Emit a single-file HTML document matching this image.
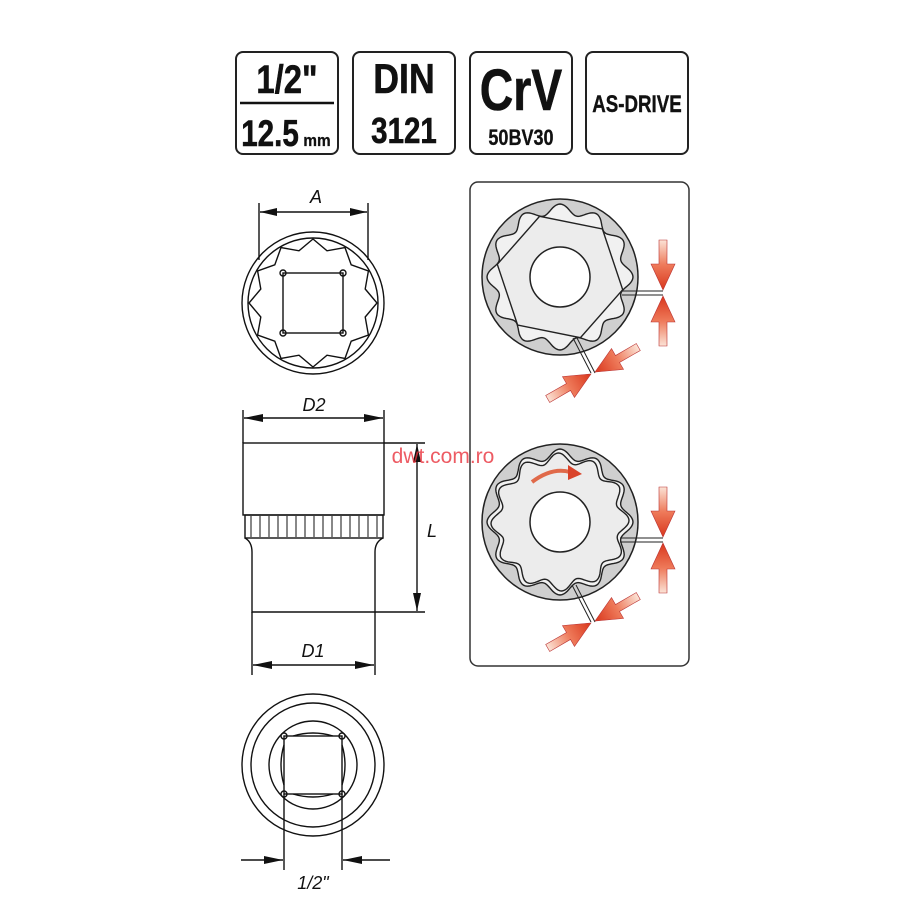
<!DOCTYPE html>
<html><head><meta charset="utf-8"><style>
html,body{margin:0;padding:0;background:#fff}
svg{display:block}
text{font-family:"Liberation Sans",sans-serif}
</style></head><body>
<svg id="s" width="911" height="911" viewBox="0 0 911 911" xmlns="http://www.w3.org/2000/svg">
<defs>
<linearGradient id="rg" x1="0" y1="0" x2="0" y2="1"><stop offset="0" stop-color="#fbe3d6"/><stop offset="0.5" stop-color="#ee7a5a"/><stop offset="1" stop-color="#d9361c"/></linearGradient>
</defs>
<g fill="#fff" stroke="#222" stroke-width="2">
<rect x="236" y="52" width="102" height="102" rx="7"/>
<rect x="353" y="52" width="102" height="102" rx="7"/>
<rect x="470" y="52" width="102" height="102" rx="7"/>
<rect x="586" y="52" width="102" height="102" rx="7"/>
</g>
<g font-weight="bold" fill="#111" text-anchor="middle" stroke="#111" stroke-width="0.6">
<text x="287" y="93" font-size="40" transform="translate(287 0) scale(0.82 1) translate(-287 0)">1/2"</text>
<line x1="240" y1="103" x2="334" y2="103" stroke="#111" stroke-width="2.5"/>
<text x="270" y="146" font-size="37" transform="translate(270 0) scale(0.8 1) translate(-270 0)">12.5</text>
<text x="317" y="146" font-size="17" stroke-width="0.3" transform="translate(317 0) scale(0.9 1) translate(-317 0)">mm</text>
<text x="404" y="93" font-size="42" transform="translate(404 0) scale(0.85 1) translate(-404 0)">DIN</text>
<text x="404" y="143" font-size="36" transform="translate(404 0) scale(0.82 1) translate(-404 0)">3121</text>
<text x="521" y="110" font-size="58" transform="translate(521 0) scale(0.8 1) translate(-521 0)">CrV</text>
<text x="521" y="145" font-size="22" stroke-width="0.3" transform="translate(521 0) scale(0.82 1) translate(-521 0)">50BV30</text>
<text x="637" y="112" font-size="24" stroke-width="0.4" transform="translate(637 0) scale(0.78 1) translate(-637 0)">AS-DRIVE</text>
</g>
<g fill="none" stroke="#111" stroke-width="1.4">
<circle cx="313" cy="303" r="71"/><circle cx="313" cy="303" r="65"/>
<path id="star12"/>
<rect x="283" y="273" width="60" height="60"/>
<circle cx="283" cy="273" r="3"/><circle cx="343" cy="273" r="3"/><circle cx="283" cy="333" r="3"/><circle cx="343" cy="333" r="3"/>
<line x1="259" y1="203" x2="259" y2="260"/><line x1="368" y1="203" x2="368" y2="260"/>
<line x1="260" y1="212" x2="367" y2="212"/>
<line x1="243" y1="410" x2="243" y2="443"/><line x1="384" y1="410" x2="384" y2="443"/>
<line x1="244" y1="418" x2="383" y2="418"/>
<rect x="243" y="443" width="141" height="72"/>
<rect x="245" y="515" width="138" height="23"/>
<path d="M245,538 Q252,542 252,552 L252,612 L375,612 L375,552 Q375,542 383,538"/>
<line x1="384" y1="443" x2="425" y2="443"/><line x1="375" y1="612" x2="425" y2="612"/>
<line x1="417" y1="444" x2="417" y2="611"/>
<line x1="252" y1="612" x2="252" y2="675"/><line x1="375" y1="612" x2="375" y2="675"/>
<line x1="253" y1="665" x2="374" y2="665"/>
<circle cx="313" cy="765" r="71"/><circle cx="313" cy="765" r="62"/><circle cx="313" cy="765" r="44"/>
<path d="M284,745 Q278,765 284,785 M342,745 Q348,765 342,785 M293,736 Q313,730 333,736 M293,794 Q313,800 333,794"/>
<rect x="284" y="736" width="58" height="58"/>
<circle cx="284" cy="736" r="3"/><circle cx="342" cy="736" r="3"/><circle cx="284" cy="794" r="3"/><circle cx="342" cy="794" r="3"/>
<line x1="284" y1="794" x2="284" y2="870"/><line x1="342" y1="794" x2="342" y2="870"/>
<line x1="241" y1="860" x2="283" y2="860"/>
<line x1="390" y1="860" x2="343" y2="860"/>
</g>
<g fill="#111">
<polygon points="260,212 277,208 277,216"/><polygon points="367,212 350,208 350,216"/>
<polygon points="244,418 263,414 263,422"/><polygon points="383,418 364,414 364,422"/>
<polygon points="417,444 413,462 421,462"/><polygon points="417,611 413,593 421,593"/>
<polygon points="253,665 272,661 272,669"/><polygon points="374,665 355,661 355,669"/>
<polygon points="283,860 264,856 264,864"/><polygon points="343,860 362,856 362,864"/>
</g>
<g id="knurl" stroke="#111" stroke-width="1"></g>
<g font-style="italic" font-size="18" fill="#111" text-anchor="middle">
<text x="316" y="203">A</text><text x="314" y="411">D2</text><text x="432" y="537">L</text>
<text x="313" y="657">D1</text><text x="313" y="889">1/2"</text>
</g>
<rect x="470" y="182" width="219" height="484" rx="8" fill="#fff" stroke="#333" stroke-width="1.5"/>
<g id="wheels"></g>
<text x="443" y="463" font-size="21" fill="#e8323c" fill-opacity="0.8" text-anchor="middle">dwt.com.ro</text>
</svg>
<script>
var NS="http://www.w3.org/2000/svg";
function pts(cx,cy,f,n){var a=[];for(var i=0;i<=n;i++){var t=i/n*2*Math.PI,r=f(t);a.push((cx+r*Math.cos(t)).toFixed(1)+","+(cy+r*Math.sin(t)).toFixed(1));}return "M"+a.join("L")+"Z";}
var s=[];for(var i=0;i<24;i++){var t=i*Math.PI/12-Math.PI/2,r=i%2?54:64;s.push((313+r*Math.cos(t)).toFixed(1)+","+(303+r*Math.sin(t)).toFixed(1));}
document.getElementById("star12").setAttribute("d","M"+s.join("L")+"Z");
var k=document.getElementById("knurl");for(var x=251;x<383;x+=9){var l=document.createElementNS(NS,"line");l.setAttribute("x1",x);l.setAttribute("x2",x);l.setAttribute("y1",516);l.setAttribute("y2",537);k.appendChild(l);}
var g=document.getElementById("wheels"),h="";
function el(tag,at){h+="<"+tag+" "+at+"/>";}
function wheel(cx,cy,top){
 el("circle",'cx="'+cx+'" cy="'+cy+'" r="78" fill="#cfcfcf" stroke="#222" stroke-width="1.5"');
 el("path",'d="'+pts(cx,cy,function(t){return 68+5*Math.cos(12*t);},240)+'" fill="#f1f1f1" stroke="#222" stroke-width="1.4"');
 if(top){var p=[];for(var i=0;i<6;i++){var t=i*Math.PI/3+0.2;p.push((cx+64*Math.cos(t)).toFixed(1)+","+(cy+64*Math.sin(t)).toFixed(1));}
  el("polygon",'points="'+p.join(" ")+'" fill="#ececec" stroke="#222" stroke-width="1.4"');}
 else{el("path",'d="'+pts(cx,cy,function(t){return 64+5*Math.cos(12*t+0.3);},240)+'" fill="#ececec" stroke="#222" stroke-width="1.4"');
  el("path",'d="M'+(cx-28)+','+(cy-40)+' Q'+(cx-8)+','+(cy-55)+' '+(cx+10)+','+(cy-50)+'" fill="none" stroke="#e06a4a" stroke-width="4"');
  el("polygon",'points="'+(cx+8)+','+(cy-57)+' '+(cx+22)+','+(cy-48)+' '+(cx+8)+','+(cy-42)+'" fill="#d9432a"');}
 el("circle",'cx="'+cx+'" cy="'+cy+'" r="30" fill="#fff" stroke="#222" stroke-width="1.5"');
}
function arr(x,y,ang){
 h+='<g transform="translate('+x+','+y+') rotate('+ang+')"><polygon points="0,0 -12,-26 -4,-26 -4,-50 4,-50 4,-26 12,-26" fill="url(#rg)" stroke="#b33" stroke-width="0.6"/></g>';
}
function marks(cx,cy,vy,dx,dy,lx,ly){
 el("line",'x1="'+lx+'" y1="'+(vy-2)+'" x2="663" y2="'+(vy-2)+'" stroke="#222" stroke-width="1"');
 el("line",'x1="'+lx+'" y1="'+(vy+2)+'" x2="663" y2="'+(vy+2)+'" stroke="#222" stroke-width="1"');
 arr(663,vy-3,0);arr(663,vy+3,180);
 el("line",'x1="'+(ly[0]-2)+'" y1="'+ly[1]+'" x2="'+(dx-2)+'" y2="'+dy+'" stroke="#222" stroke-width="1"');
 el("line",'x1="'+(ly[0]+2)+'" y1="'+ly[1]+'" x2="'+(dx+2)+'" y2="'+dy+'" stroke="#222" stroke-width="1"');
 arr(dx+2,dy-1,60);arr(dx-2,dy+1,240);
}
wheel(560,277,true);marks(560,277,293,593,373,622,[575,338]);
wheel(560,522,false);marks(560,522,540,593,622,620,[574,585]);
g.innerHTML=h;
</script>
</body></html>
